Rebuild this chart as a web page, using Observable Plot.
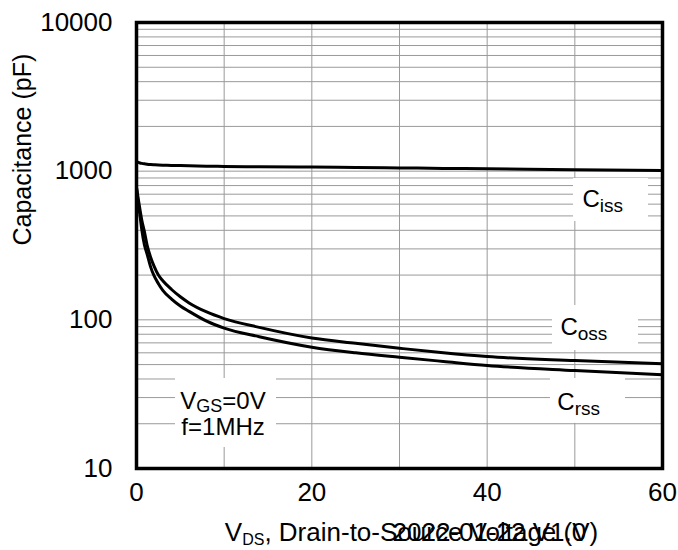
<!DOCTYPE html>
<html><head><meta charset="utf-8">
<script src="https://cdn.jsdelivr.net/npm/d3@7"></script>
<script src="https://cdn.jsdelivr.net/npm/@observablehq/plot@0.6"></script>
<style>body{margin:0;background:#fff}</style>
</head><body><div id="chart"></div>
<script>
// Data
const vds  = [0, 0.2, 0.4, 0.6, 0.9, 1.2, 1.6, 2, 2.5, 3, 4, 5, 6, 8, 10, 14, 20, 25, 30, 35, 40, 50, 60];
const ciss = [1160, 1145, 1135, 1128, 1120, 1114, 1108, 1104, 1100, 1097, 1093, 1090, 1087, 1081, 1076, 1070, 1066, 1060, 1052, 1044, 1037, 1022, 1010];
const coss = [780, 650, 550, 470, 392, 320, 265, 230, 200, 183, 160, 143, 130, 113, 102, 89, 75.5, 69.5, 64.4, 60, 56.6, 53.2, 50.6];
const crss = [770, 610, 500, 405, 320, 278, 228, 198, 175, 158, 138, 124, 114, 98, 88, 77, 65.5, 60, 56, 52.5, 49.3, 45.6, 42.7];
const seriesNames = ["Ciss", "Coss", "Crss"];
const xTicks = [0, 20, 40, 60];
const xGrid = [10, 20, 30, 40, 50];
const yTicks = [10, 100, 1000, 10000];
const yGrid = [10,100,1000].flatMap(d => [1,2,3,4,5,6,7,8,9].map(m => m * d)).filter(v => v > 10);
const yLabel = "Capacitance (pF)";
const xLabel = "V_{DS}, Drain-to-Source Voltage (V)";
const stamp = "2022-01-22 V1.0";

// annotation labels (data units)
const labels = [
  {text: "C_{iss}", x: 50.87, y: 570},
  {text: "C_{oss}", x: 48.36, y: 78.5},
  {text: "C_{rss}", x: 48.0, y: 24.6}
];
const condLabels = [
  {text: "V_{GS}=0V", x: 9.87, y: 25.3},
  {text: "f=1MHz", x: 9.87, y: 16.7}
];
const boxes = [
  {x1: 49.85, x2: 58.4, y1: 459, y2: 893},
  {x1: 47.45, x2: 57.26, y1: 62.2, y2: 124.9},
  {x1: 47.22, x2: 55.78, y1: 20.1, y2: 40.3},
  {x1: 4.45, x2: 15.97, y1: 13.85, y2: 40.3}
];

const rows = [];
[ciss, coss, crss].forEach((arr, k) => arr.forEach((c, i) => rows.push({series: seriesNames[k], v: vds[i], c})));

const plot = Plot.plot({
  width: 678, height: 550,
  marginLeft: 136, marginRight: 16, marginTop: 22, marginBottom: 82,
  style: {fontFamily: "'Liberation Sans', Arial, sans-serif", fontSize: "26px", color: "black", background: "white"},
  x: {domain: [0, 60]},
  y: {type: "log", domain: [10, 10000]},
  marks: [
    Plot.ruleY(yGrid, {stroke: "#9a9a9a", strokeWidth: 1}),
    Plot.ruleX(xGrid, {stroke: "#9a9a9a", strokeWidth: 1}),
    Plot.rect(boxes, {x1: "x1", x2: "x2", y1: "y1", y2: "y2", fill: "white"}),
    Plot.line(rows, {x: "v", y: "c", z: "series", stroke: "black", strokeWidth: 3, curve: "monotone-x"}),
    Plot.frame({stroke: "black", strokeWidth: 3.5}),
    Plot.axisY({ticks: yTicks, tickFormat: d => String(d), tickSize: 0, tickPadding: 24, label: null, fill: "black"}),
    Plot.axisX({ticks: xTicks, tickFormat: d => String(d), tickSize: 0, tickPadding: 14.5, label: null, fill: "black"}),
    Plot.text(labels, {x: "x", y: "y", text: "text", textAnchor: "start", lineAnchor: "bottom", fontSize: 24, fill: "black"}),
    Plot.text(condLabels, {x: "x", y: "y", text: "text", textAnchor: "middle", lineAnchor: "bottom", fontSize: 24, fill: "black"}),
    Plot.text([yLabel], {text: d => d, frameAnchor: "left", dx: -114, rotate: -90, fontSize: 25, fill: "black"}),
    Plot.text([xLabel], {text: d => d, frameAnchor: "bottom", dx: 12, dy: 72, lineAnchor: "bottom", fontSize: 26, fill: "black"}),
    Plot.text([stamp], {text: d => d, frameAnchor: "bottom", dx: -7, dy: 72, lineAnchor: "bottom", textAnchor: "start", fontSize: 26, fill: "black"})
  ]
});
document.getElementById("chart").appendChild(plot);

// turn "_{...}" into subscript tspans
d3.select(plot).selectAll("text").each(function () {
  const t = this.textContent;
  if (!t || !t.includes("_{")) return;
  const isAxis = t.startsWith("V_{DS}");
  const isV = t.startsWith("V_{");
  const subSize = isAxis ? 16 : isV ? 18 : 19;
  const shift = isAxis ? 4 : isV ? 3 : 5;
  const parts = t.split(/(_\{[^}]*\})/).filter(s => s.length);
  this.textContent = "";
  let prevSub = false;
  for (const p of parts) {
    const ts = document.createElementNS("http://www.w3.org/2000/svg", "tspan");
    if (p.startsWith("_{")) {
      ts.textContent = p.slice(2, -1);
      ts.setAttribute("font-size", subSize);
      ts.setAttribute("dy", shift);
      prevSub = true;
    } else {
      ts.textContent = p;
      if (prevSub) ts.setAttribute("dy", -shift);
      prevSub = false;
    }
    this.appendChild(ts);
  }
});
</script>
</body></html>
